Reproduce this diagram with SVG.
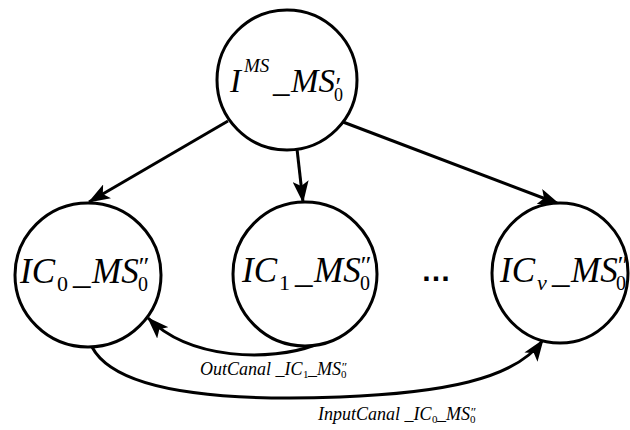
<svg xmlns="http://www.w3.org/2000/svg" width="630" height="430" viewBox="0 0 630 430">
  <defs>
    <marker id="arrow" viewBox="0 0 22 16" refX="21" refY="8" markerWidth="22" markerHeight="16" markerUnits="userSpaceOnUse" orient="auto">
      <path d="M0,0 L22,8 L0,16 L5,8 Z" fill="#000"/>
    </marker>
    <style>
      .node { fill: #fff; stroke: #000; stroke-width: 3; }
      .edge { fill: none; stroke: #000; stroke-width: 3; marker-end: url(#arrow); }
      .lbl { font-family: "Liberation Serif", "Times New Roman", serif; font-style: italic; fill: #000; }
      .big { font-size: 35px; }
      .topbig { font-size: 33px; }
      .sub { font-size: 22px; font-style: normal; }
      .subv { font-size: 22px; }
      .sup { font-size: 19px; }
      .pr { font-size: 26px; }
      .idx { font-size: 20px; font-style: normal; }
      .elbl { font-size: 18px; }
      .esub { font-size: 11px; font-style: normal; }
      .epr { font-size: 13px; }
    </style>
  </defs>

  <g id="connectors">
    <line class="edge" x1="228" y1="121" x2="89" y2="202"/>
    <line class="edge" x1="297" y1="149" x2="303" y2="202"/>
    <line class="edge" x1="343" y1="122" x2="559" y2="204"/>
    <path class="edge" d="M315,345 C270,362 190,360 148,318"/>
    <path class="edge" d="M92,347 C120,400 260,400 340,397 C440,393 515,380 543,340"/>
  </g>

  <g id="node-top">
    <circle class="node" cx="287" cy="80" r="70"/>
    <text class="lbl"><tspan class="topbig" x="230" y="92">I</tspan><tspan class="sup" x="244" y="72">MS</tspan><tspan class="topbig" x="273" y="92">_</tspan><tspan class="topbig" x="291" y="92">MS</tspan><tspan class="pr" x="334" y="95">′</tspan><tspan class="idx" x="334" y="101" style="font-size:18px">0</tspan></text>
  </g>

  <g id="node-ic0">
    <ellipse class="node" cx="88" cy="275" rx="73" ry="72"/>
    <text class="lbl"><tspan class="big" x="20" y="283">IC</tspan><tspan class="sub" x="57" y="291">0</tspan><tspan class="big" x="73" y="283">_</tspan><tspan class="big" x="92" y="283">MS</tspan><tspan class="pr" x="137" y="275">″</tspan><tspan class="idx" x="138" y="291">0</tspan></text>
  </g>

  <g id="node-ic1">
    <ellipse class="node" cx="305" cy="274" rx="72" ry="72"/>
    <text class="lbl"><tspan class="big" x="242" y="282">IC</tspan><tspan class="sub" x="279" y="290">1</tspan><tspan class="big" x="295" y="282">_</tspan><tspan class="big" x="314" y="282">MS</tspan><tspan class="pr" x="359" y="274">″</tspan><tspan class="idx" x="360" y="290">0</tspan></text>
  </g>

  <g id="node-icv">
    <ellipse class="node" cx="560" cy="273" rx="68" ry="70"/>
    <text class="lbl"><tspan class="big" x="500" y="282">IC</tspan><tspan class="subv" x="537" y="290">v</tspan><tspan class="big" x="552" y="282">_</tspan><tspan class="big" x="571" y="282">MS</tspan><tspan class="pr" x="616" y="274">″</tspan><tspan class="idx" x="616" y="290">0</tspan></text>
  </g>

  <text id="ellipsis" x="436" y="281" text-anchor="middle" style="font-family:'Liberation Sans',Arial,sans-serif;font-size:30px;font-weight:bold">…</text>

  <g id="label-out">
    <text class="lbl elbl"><tspan x="200" y="375">OutCanal _IC</tspan><tspan class="esub" x="303" y="378">1</tspan><tspan x="308" y="375">_MS</tspan><tspan class="epr" x="341" y="371">″</tspan><tspan class="esub" x="341" y="378">0</tspan></text>
  </g>

  <g id="label-in">
    <text class="lbl elbl"><tspan x="318" y="420">InputCanal _IC</tspan><tspan class="esub" x="432" y="423">0</tspan><tspan x="437" y="420">_MS</tspan><tspan class="epr" x="470" y="416">″</tspan><tspan class="esub" x="470" y="423">0</tspan></text>
  </g>
</svg>
